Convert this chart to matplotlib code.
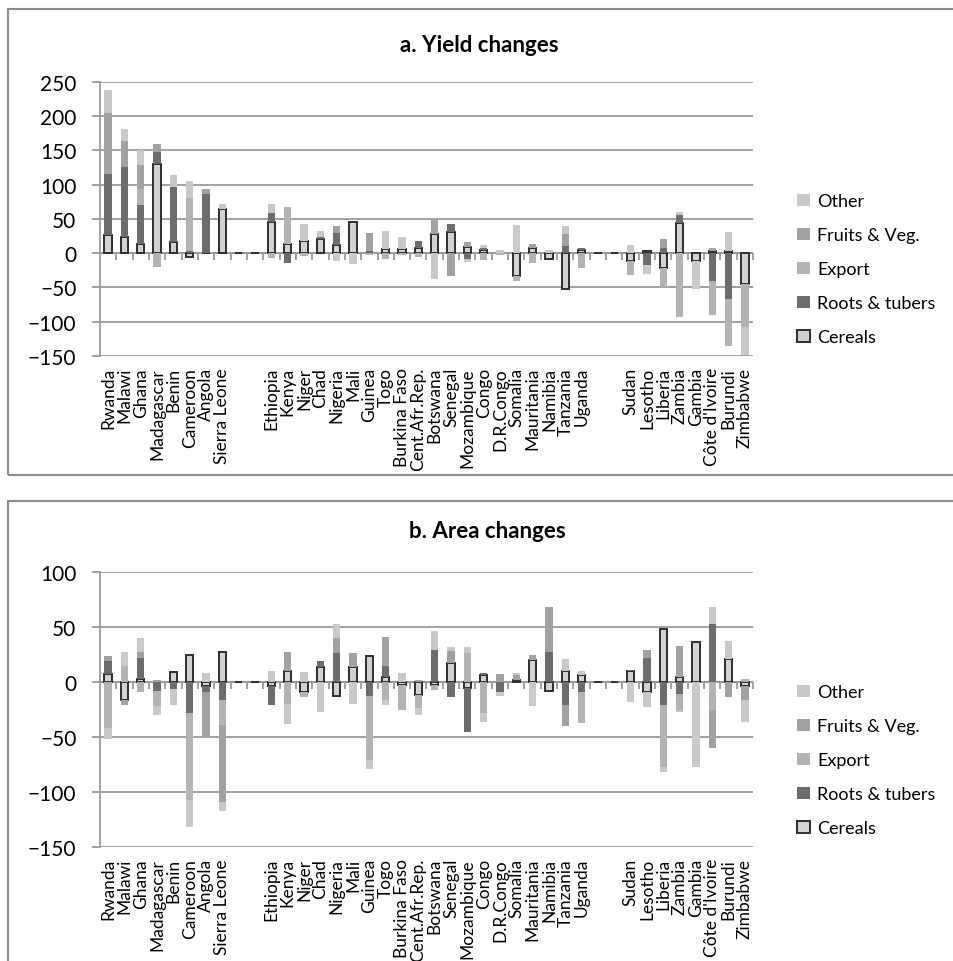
## yield and area change stacked bars

import numpy as np
import matplotlib.pyplot as plt
import matplotlib.patches as mpatches

plt.rcParams['font.family'] = ['Lato', 'DejaVu Sans']

FIG_W, FIG_H = 954, 962
GRID_COLOR = '#9a9a9a'
FRAME_COLOR = '#8c8c8c'

# '' = empty slot between country groups
COUNTRIES = [
	'Rwanda', 'Malawi', 'Ghana', 'Madagascar', 'Benin', 'Cameroon', 'Angola', 'Sierra Leone',
	'', '',
	'Ethiopia', 'Kenya', 'Niger', 'Chad', 'Nigeria', 'Mali', 'Guinea', 'Togo', 'Burkina Faso',
	'Cent.Afr.Rep.', 'Botswana', 'Senegal', 'Mozambique', 'Congo', 'D.R.Congo', 'Somalia',
	'Mauritania', 'Namibia', 'Tanzania', 'Uganda',
	'', '',
	'Sudan', 'Lesotho', 'Liberia', 'Zambia', 'Gambia', "Côte d'Ivoire", 'Burundi', 'Zimbabwe',
]

SERIES = ['Cereals', 'Roots & tubers', 'Export', 'Fruits & Veg.', 'Other']

# a. yield changes
yield_cereals = [27, 24, 14, 130, 16, -5, 0, 64, 0, 0,
	45, 14, 18, 21, 12, 45, 0, 6, 6, 8, 28, 31, 9, 5, 0, -34, 8, -8, -52, 5, 0, 0,
	-12, 3, -21, 44, -12, 3, 3, -45]
yield_roots = [88, 102, 56, 18, 80, 3, 86, 0, 0, 0,
	14, -14, 0, 2, 17, 0, 3, 0, 0, 10, 0, 11, -9, 3, 0, 0, 0, 0, 10, 2, 0, 0,
	0, -18, 7, 11, 0, -41, -67, 0]
yield_export = [0, 0, 23, -20, 0, 78, 0, 0, 0, 0,
	-7, 53, -4, 0, 0, 0, -2, -9, -3, -5, 0, 0, 0, -10, -3, -7, -14, 0, 0, -21, 0, 0,
	-20, 0, -29, -93, 0, -49, -69, -62]
yield_fruits = [90, 37, 35, 11, 0, 0, 8, 0, 0, 0,
	0, 0, 0, 0, 10, 0, 26, 0, 0, 0, 21, -33, 7, 0, 0, 0, 6, 0, 18, 0, 0, 0,
	0, 0, 14, 0, 0, 4, 0, 0]
yield_other = [33, 18, 23, 0, 18, 24, 0, 7, 0, 0,
	12, 0, 24, 9, -11, -16, 0, 27, 18, 0, -38, 0, -4, 4, 4, 41, 0, 4, 12, 0, 0, 0,
	12, -13, 0, 5, -40, 0, 28, -41]

# b. area changes
area_cereals = [7, -16, 3, 0, 9, 25, -4, 27, 0, 0,
	-4, 10, -9, 14, -13, 14, 24, 5, -3, -12, -3, 17, -5, 6, 0, 2, 20, -8, 10, 6, 0, 0,
	10, -9, 48, 5, 36, 0, 21, -4]
area_roots = [12, 0, 19, -8, -6, -28, -5, -16, 0, 0,
	-17, 0, 0, 5, 26, 0, -13, 10, 0, 0, 29, -14, -40, 2, -9, 0, 0, 27, -21, -9, 0, 0,
	1, 22, -21, -11, 0, 53, 0, 0]
area_export = [-42, 15, -9, -14, 0, -79, 0, -23, 0, 0,
	0, -20, -5, 0, 0, 0, -58, -16, -22, -12, -4, 0, 26, -28, 0, 0, 0, 0, 0, -28, 0, 0,
	0, 0, -56, -14, 0, -25, 0, 3]
area_fruits = [5, -5, 5, 2, 0, 0, -41, -70, 0, 0,
	0, 17, 0, 0, 14, 12, 0, 26, 0, 2, 0, 11, 0, 0, 7, 4, 5, 41, -19, 0, 0, 0,
	0, 7, 0, 28, 0, -35, -14, -12]
area_other = [-10, 12, 13, -8, -15, -25, 8, -8, 0, 0,
	10, -18, 9, -27, 13, -20, -8, -5, 8, -6, 17, 4, 6, -8, -4, 2, -22, 0, 11, 4, 0, 0,
	-18, -14, -5, -2, -77, 15, 16, -20]

# stacking order bottom -> top, legend shows it reversed
STYLES = {
	'Cereals': dict(color='#d2d2d2', edgecolor='#2e2e2e', linewidth=1.4),
	'Roots & tubers': dict(color='#6c6c6c'),
	'Export': dict(color='#b3b3b3'),
	'Fruits & Veg.': dict(color='#a2a2a2'),
	'Other': dict(color='#c9c9c9'),
}


def _fig_rect(left, top, right, bottom):
	# pixel box -> figure fraction [x, y, w, h]
	return [left / FIG_W, 1 - bottom / FIG_H, (right - left) / FIG_W, (bottom - top) / FIG_H]


def _stacked_bars(ax, x, series_values):
	pos_base = np.zeros(len(x))
	neg_base = np.zeros(len(x))
	for name, vals in zip(SERIES, series_values):
		vals = np.asarray(vals, dtype=float)
		bottom = np.where(vals >= 0, pos_base, neg_base)
		ax.bar(x, vals, bottom=bottom, width=0.45, label=name, zorder=3, **STYLES[name])
		pos_base = pos_base + np.clip(vals, 0, None)
		neg_base = neg_base + np.clip(vals, None, 0)


def _format_axes(ax, x, ylim, ystep):
	ax.set_xlim(x[0] - 0.5, x[-1] + 0.5)
	ax.set_ylim(ylim)
	ax.set_yticks(np.arange(ylim[0], ylim[1] + 1, ystep))
	ax.yaxis.grid(True, color=GRID_COLOR, linewidth=1.3)
	ax.set_axisbelow(True)
	for side in ['top', 'right', 'bottom']:
		ax.spines[side].set_visible(False)
	ax.spines['left'].set_color(GRID_COLOR)
	ax.spines['left'].set_linewidth(1.3)
	ax.tick_params(axis='y', length=6, width=1.3, color=GRID_COLOR, pad=11, labelsize=15)

	ax.set_xticks(x, COUNTRIES, rotation=90, fontsize=12.5)
	ax.tick_params(axis='x', length=0, pad=8)

	# horizontal axis at zero with small ticks between categories
	ax.axhline(0, color=GRID_COLOR, linewidth=1.3, zorder=2)
	edges = np.arange(len(x) + 1) - 0.5
	ax.plot(edges[1:], np.zeros(len(edges) - 1), ls='none', marker=3, markersize=5,
		markeredgewidth=1.3, color=GRID_COLOR, zorder=2, clip_on=False)


def _legend(ax, fig, top_px):
	handles, labels = ax.get_legend_handles_labels()
	leg = ax.legend(handles[::-1], labels[::-1], loc='upper left',
		bbox_to_anchor=(790 / FIG_W, 1 - top_px / FIG_H), bbox_transform=fig.transFigure,
		frameon=False, fontsize=13, handlelength=0.7, handleheight=0.7,
		handletextpad=0.4, labelspacing=1.0, borderaxespad=0)
	return leg


fig = plt.figure(figsize=(FIG_W / 100, FIG_H / 100), dpi=100)

# panel frames
for top, bottom in [(10, 476), (502, 975)]:
	fig.add_artist(mpatches.Rectangle((8 / FIG_W, 1 - bottom / FIG_H), 1.0, (bottom - top) / FIG_H,
		transform=fig.transFigure, fill=False, edgecolor=FRAME_COLOR, linewidth=1.5))

x = np.arange(len(COUNTRIES))

ax_a = fig.add_axes(_fig_rect(100, 82.7, 753, 357))
_stacked_bars(ax_a, x, [yield_cereals, yield_roots, yield_export, yield_fruits, yield_other])
_format_axes(ax_a, x, (-150, 250), 50)
_legend(ax_a, fig, 187)
fig.text(479 / FIG_W, 1 - 46 / FIG_H, 'a. Yield changes', ha='center', va='center',
	fontsize=16, fontweight='bold')

ax_b = fig.add_axes(_fig_rect(100, 573, 753, 848))
_stacked_bars(ax_b, x, [area_cereals, area_roots, area_export, area_fruits, area_other])
_format_axes(ax_b, x, (-150, 100), 50)
_legend(ax_b, fig, 678)
fig.text(487 / FIG_W, 1 - 532 / FIG_H, 'b. Area changes', ha='center', va='center',
	fontsize=16, fontweight='bold')

fig.savefig('out.png', dpi=100)
